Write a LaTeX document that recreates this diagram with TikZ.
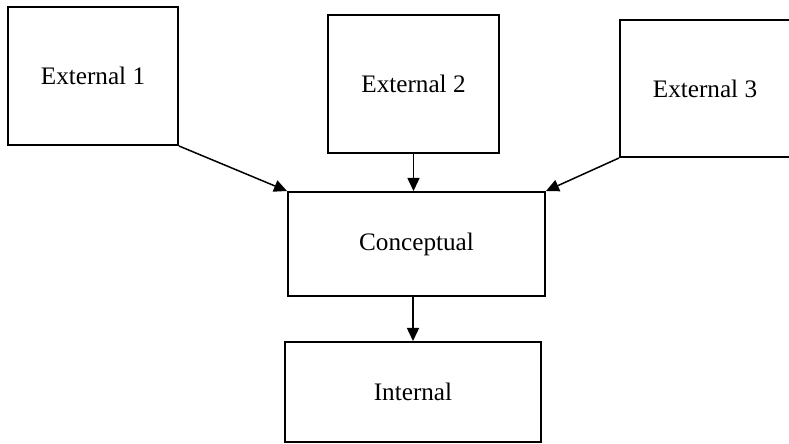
\documentclass[tikz,border=0pt]{standalone}
\usepackage{fontspec}
\setmainfont{Liberation Serif}
\usetikzlibrary{arrows.meta}

\begin{document}
\begin{tikzpicture}[x=0.5pt,y=-0.5pt,
    level/.style={draw,line width=1pt,inner sep=0pt,font=\fontsize{12.6}{15}\selectfont},
    flow/.style={line width=0.75pt,-{Triangle[length=6.5pt,width=6pt]}}]
      \useasboundingbox (0,0) rectangle (789,444);

      \node [level,minimum width=85pt,minimum height=69pt] (ext1) at (93,76) {\raisebox{-2pt}{External 1}};
      \node [level,minimum width=85.5pt,minimum height=69pt] (ext2) at (413.5,84) {\raisebox{-1.5pt}{External 2}};
      \node [level,minimum width=85pt,minimum height=68.5pt] (ext3) at (705,88.5) {\raisebox{-2pt}{External 3}};

      \node [level,minimum width=128.5pt,minimum height=52pt] (conc) at (416.5,244) {\raisebox{-2pt}{Conceptual}};
      \node [level,minimum width=128pt,minimum height=50pt] (intl) at (413,392) {\raisebox{-1.5pt}{Internal}};

      \draw [flow] (ext1.south east) to (conc.north west);
      \draw [flow] (ext2.south) to (conc.north -| ext2.south);
      \draw [flow] (ext3.south west) to (conc.north east);
      \draw [flow] (conc.south -| intl.north) to (intl.north);
    \end{tikzpicture}
\end{document}
